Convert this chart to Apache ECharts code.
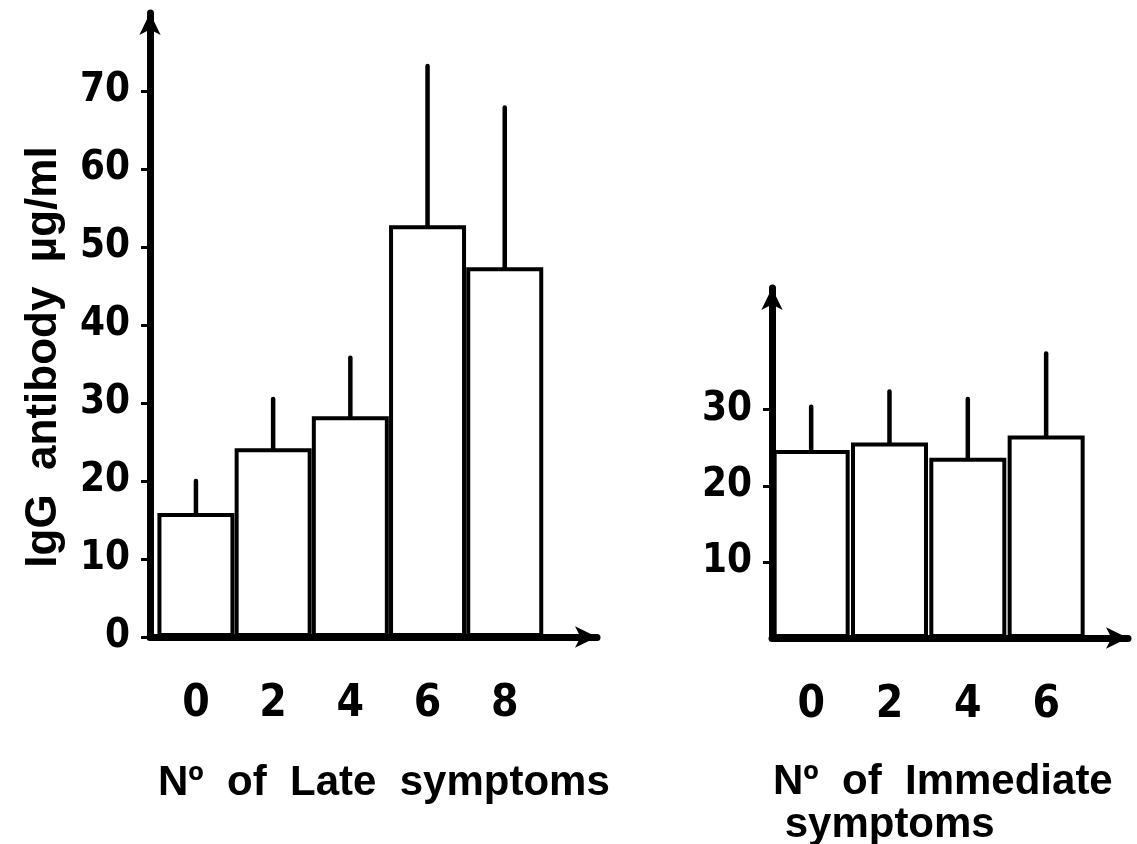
<!DOCTYPE html>
<html><head><meta charset="utf-8">
<script src="https://cdn.jsdelivr.net/npm/echarts@6/dist/echarts.min.js"></script>
<style>html,body{margin:0;padding:0;background:#fff}#c{width:1137px;height:844px}</style>
</head><body><div id="c"></div>
<script>
// ---- data ----
const lateCategories = [0, 2, 4, 6, 8];
const lateMeans = [15.9, 24.2, 28.3, 52.8, 47.4];
const lateErrTop = [20.0, 30.5, 35.8, 73.2, 67.9];
const immCategories = [0, 2, 4, 6];
const immMeans = [24.7, 25.7, 23.7, 26.6];
const immErrTop = [30.4, 32.4, 31.4, 37.4];
const lateYTicks = [0, 10, 20, 30, 40, 50, 60, 70];
const immYTicks = [10, 20, 30];
const lateXName = 'Nº  of  Late  symptoms';
const immXName = 'Nº  of  Immediate\n symptoms';
const yName = 'IgG  antibody  µg/ml';

const numFont = '"Liberation Sans Narrow", "DejaVu Sans Condensed", "Liberation Sans", sans-serif';
const txtFont = '"Liberation Sans", Arial, sans-serif';

function errItem(params, api) {
  const x = api.value(0), lo = api.value(1), hi = api.value(2);
  const p1 = api.coord([x, lo]);
  const p2 = api.coord([x, hi]);
  return { type: 'line', shape: { x1: p1[0], y1: p1[1], x2: p2[0], y2: p2[1] },
           style: { stroke: '#000', lineWidth: 4.5, lineCap: 'round' } };
}

function xAxisCfg(idx, min, max, cats) {
  return {
    type: 'value', gridIndex: idx, min: min, max: max,
    splitLine: { show: false },
    axisTick: { show: false },
    axisLine: { show: true, onZero: false, lineStyle: { color: '#000', width: 7 }, symbol: ['none', 'arrow'], symbolSize: [16, 22] },
    axisLabel: { customValues: cats, margin: 46, color: '#000', fontFamily: numFont, fontWeight: 'bold', fontSize: 44,
                 formatter: v => String(v) }
  };
}
function yAxisCfg(idx, max, ticks, withName) {
  const c = {
    type: 'value', gridIndex: idx, min: 0, max: max,
    splitLine: { show: false },
    axisLine: { show: true, onZero: false, lineStyle: { color: '#000', width: 7 }, symbol: ['none', 'arrow'], symbolSize: [16, 22] },
    axisTick: { show: true, customValues: ticks, length: 9, lineStyle: { color: '#000', width: 3 } },
    axisLabel: { customValues: ticks, margin: 20, color: '#000', fontFamily: numFont, fontWeight: 'bold', fontSize: 40 }
  };
  if (withName) {
    c.name = yName;
    c.nameLocation = 'middle';
    c.nameRotate = 90;
    c.nameGap = 84;
    c.nameTextStyle = { color: '#000', fontFamily: txtFont, fontWeight: 'bold', fontSize: 44, padding: [0, 64, 0, 0] };
  }
  return c;
}

const chart = echarts.init(document.getElementById('c'), null, { renderer: 'canvas' });
chart.setOption({
  backgroundColor: '#fff',
  animation: false,
  title: [
    { text: lateXName, left: 153, top: 757, textStyle: { color: '#000', fontFamily: txtFont, fontWeight: 'bold', fontSize: 42 } },
    { text: immXName, left: 768, top: 756, textStyle: { color: '#000', fontFamily: txtFont, fontWeight: 'bold', fontSize: 42, lineHeight: 43 } }
  ],
  grid: [
    { left: 150, top: 13, width: 447, height: 624, containLabel: false },
    { left: 772, top: 288, width: 356, height: 350, containLabel: false }
  ],
  xAxis: [
    xAxisCfg(0, -1.19, 10.39, lateCategories),
    xAxisCfg(1, -1.0, 8.09, immCategories)
  ],
  yAxis: [
    yAxisCfg(0, 80, lateYTicks, true),
    yAxisCfg(1, 46, immYTicks, false)
  ],
  series: [
    { type: 'bar', xAxisIndex: 0, yAxisIndex: 0, barWidth: 77,
      itemStyle: { color: '#fff', borderColor: '#000', borderWidth: 4 },
      data: lateCategories.map((c, i) => [c, lateMeans[i]]) },
    { type: 'custom', xAxisIndex: 0, yAxisIndex: 0, renderItem: errItem,
      data: lateCategories.map((c, i) => [c, lateMeans[i], lateErrTop[i]]) },
    { type: 'bar', xAxisIndex: 1, yAxisIndex: 1, barWidth: 77,
      itemStyle: { color: '#fff', borderColor: '#000', borderWidth: 4 },
      data: immCategories.map((c, i) => [c, immMeans[i]]) },
    { type: 'custom', xAxisIndex: 1, yAxisIndex: 1, renderItem: errItem,
      data: immCategories.map((c, i) => [c, immMeans[i], immErrTop[i]]) }
  ]
});
</script>
</body></html>
